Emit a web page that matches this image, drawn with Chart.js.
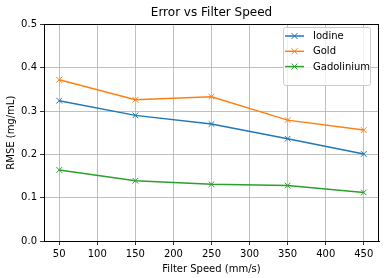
<!DOCTYPE html>
<html>
<head>
<meta charset="utf-8">
<script src="https://cdn.jsdelivr.net/npm/chart.js"></script>
<style>
  html, body { margin: 0; padding: 0; background: #fff; }
  #wrap { width: 389px; height: 278px; }
</style>
</head>
<body>
<div id="wrap"><canvas id="errChart" width="389" height="278"></canvas></div>
<script>
// data
const speeds = [50, 150, 250, 350, 450];
const iodine = [0.324, 0.290, 0.270, 0.236, 0.201];
const gold = [0.372, 0.326, 0.333, 0.279, 0.256];
const gadolinium = [0.164, 0.139, 0.131, 0.128, 0.112];
const xTicks = [50, 100, 150, 200, 250, 300, 350, 400, 450];
const yTicks = [0, 0.1, 0.2, 0.3, 0.4, 0.5];

const seriesNames = ['Iodine', 'Gold', 'Gadolinium'];
const seriesColors = ['#1f77b4', '#ff7f0e', '#2ca02c'];
const seriesValues = [iodine, gold, gadolinium];

const font = 'DejaVu Sans';

function makeDataset(i) {
    return {
        label: seriesNames[i],
        data: speeds.map((s, j) => ({ x: s, y: seriesValues[i][j] })),
        borderColor: seriesColors[i],
        backgroundColor: seriesColors[i],
        borderWidth: 1.5,
        pointStyle: 'crossRot',
        pointRadius: 4,
        pointBorderWidth: 1,
        pointHoverRadius: 4,
        tension: 0
    };
}

// frame on all four sides + matplotlib-like legend
const framePlugin = {
    id: 'frame',
    afterDraw(chart) {
        const { ctx, chartArea: a } = chart;
        ctx.save();
        ctx.strokeStyle = '#000';
        ctx.lineWidth = 1;
        ctx.strokeRect(Math.round(a.left) + 0.5, Math.round(a.top) + 0.5,
            Math.round(a.right - a.left) - 1, Math.round(a.bottom - a.top));

        // legend box
        const bx = 283, by = 27, bw = 87, bh = 58;
        ctx.fillStyle = 'rgba(255,255,255,0.8)';
        ctx.strokeStyle = '#cccccc';
        ctx.beginPath();
        ctx.roundRect(bx + 0.5, by + 0.5, bw, bh, 2);
        ctx.fill();
        ctx.stroke();
        ctx.font = '10px "' + font + '"';
        ctx.textBaseline = 'middle';
        chart.data.datasets.forEach((ds, i) => {
            const y = 36 + i * 15.3;
            ctx.strokeStyle = ds.borderColor;
            ctx.lineWidth = 1.5;
            ctx.beginPath();
            ctx.moveTo(285, y);
            ctx.lineTo(304, y);
            ctx.stroke();
            ctx.lineWidth = 1;
            ctx.beginPath();
            ctx.moveTo(291.5, y - 3); ctx.lineTo(297.5, y + 3);
            ctx.moveTo(291.5, y + 3); ctx.lineTo(297.5, y - 3);
            ctx.stroke();
            ctx.fillStyle = '#000';
            ctx.fillText(ds.label, 313, y + 0.5);
        });
        ctx.restore();
    }
};

new Chart(document.getElementById('errChart'), {
    type: 'line',
    data: { datasets: [0, 1, 2].map(makeDataset) },
    options: {
        responsive: false,
        animation: false,
        layout: { padding: { left: 4, right: 10, top: 0, bottom: 3 } },
        plugins: {
            legend: { display: false },
            tooltip: { enabled: false },
            title: {
                display: true,
                text: 'Error vs Filter Speed',
                fullSize: false,
                color: '#000',
                font: { family: font, size: 12, weight: 'normal' },
                padding: { top: 6, bottom: 4 }
            }
        },
        scales: {
            x: {
                type: 'linear',
                min: 30,
                max: 470,
                afterBuildTicks: s => { s.ticks = xTicks.map(v => ({ value: v })); },
                afterFit: s => { s.height = 34; },
                grid: { color: '#b0b0b0', lineWidth: 0.8, tickColor: '#000', tickLength: 4 },
                border: { color: '#000', width: 1 },
                ticks: { color: '#000', font: { family: font, size: 10 }, padding: 3, maxRotation: 0 },
                title: {
                    display: true, text: 'Filter Speed (mm/s)', color: '#000',
                    font: { family: font, size: 10 }, padding: { top: 2, bottom: 0 }
                }
            },
            y: {
                min: 0,
                max: 0.5,
                afterBuildTicks: s => { s.ticks = yTicks.map(v => ({ value: v })); },
                afterFit: s => { s.width = 40; },
                grid: { color: '#b0b0b0', lineWidth: 0.8, tickColor: '#000', tickLength: 4 },
                border: { color: '#000', width: 1 },
                ticks: {
                    color: '#000', font: { family: font, size: 10 }, padding: 3,
                    callback: v => v.toFixed(1)
                },
                title: {
                    display: true, text: 'RMSE (mg/mL)', color: '#000',
                    font: { family: font, size: 10 }, padding: { top: 1, bottom: 2 }
                }
            }
        }
    },
    plugins: [framePlugin]
});
</script>
</body>
</html>
